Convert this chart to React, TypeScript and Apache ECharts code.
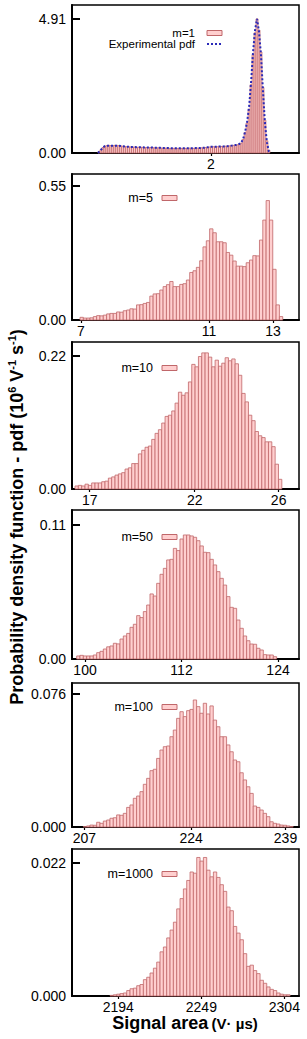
import React, { useEffect, useRef } from "react";
import * as echarts from "echarts";

// ---------- data ----------
const seriesNames = ["m=1", "m=5", "m=10", "m=50", "m=100", "m=1000"];

const m1Values = [
  0.05, 0.12, 0.2, 0.25,
  0.27, 0.28, 0.27, 0.27, 0.28, 0.28, 0.27, 0.26, 0.25,
  0.24, 0.23, 0.23, 0.22, 0.22, 0.22, 0.21, 0.21, 0.21, 0.21, 0.2, 0.2, 0.2, 0.2, 0.2, 0.19, 0.19, 0.19,
  0.19, 0.18, 0.18, 0.18, 0.18, 0.17, 0.17, 0.17, 0.17, 0.17, 0.17, 0.17, 0.17, 0.17, 0.17, 0.18, 0.17, 0.17, 0.18, 0.18, 0.18, 0.19, 0.19, 0.2, 0.21,
  0.22, 0.23, 0.23, 0.23, 0.23, 0.24, 0.24, 0.24, 0.25, 0.25, 0.26,
  0.27, 0.28, 0.29, 0.3, 0.32, 0.36,
  0.5, 0.75, 1.1, 1.6, 2.5, 3.6, 4.4, 4.91, 4.5, 3.7, 2.4, 1.2, 0.45, 0.1,
];
const expPdfValues = [
  0.04, 0.12, 0.2, 0.26,
  0.27, 0.27, 0.27, 0.27, 0.27, 0.27, 0.27, 0.26, 0.25,
  0.24, 0.23, 0.23, 0.22, 0.22, 0.22, 0.21, 0.21, 0.21, 0.21, 0.2, 0.2, 0.2, 0.2, 0.2, 0.19, 0.19, 0.19,
  0.19, 0.18, 0.18, 0.18, 0.18, 0.17, 0.17, 0.17, 0.17, 0.17, 0.17, 0.17, 0.17, 0.17, 0.17, 0.17, 0.17, 0.17, 0.18, 0.18, 0.18, 0.19, 0.19, 0.2, 0.21,
  0.22, 0.23, 0.23, 0.23, 0.23, 0.24, 0.24, 0.24, 0.25, 0.25, 0.26,
  0.27, 0.28, 0.29, 0.3, 0.33, 0.38,
  0.52, 0.78, 1.15, 1.7, 2.6, 3.7, 4.5, 4.91, 4.45, 3.6, 2.3, 1.1, 0.4, 0.05,
];
const m5Values = [
  0.011, 0.008, 0.008, 0.009, 0.014, 0.018, 0.017, 0.02, 0.025, 0.027,
  0.027, 0.033, 0.032, 0.038, 0.041, 0.046, 0.045, 0.062, 0.063, 0.068,
  0.072, 0.098, 0.107, 0.108, 0.123, 0.137, 0.145, 0.158, 0.137, 0.137,
  0.146, 0.149, 0.164, 0.195, 0.202, 0.216, 0.243, 0.3, 0.325, 0.374,
  0.358, 0.321, 0.321, 0.317, 0.277, 0.266, 0.242, 0.221, 0.221, 0.219,
  0.235, 0.246, 0.264, 0.263, 0.328, 0.41, 0.49, 0.41, 0.208, 0.062, 0.014,
];
const m10Values = [
  0.005, 0.006, 0.005, 0.008, 0.006, 0.01, 0.01, 0.01, 0.012, 0.013,
  0.018, 0.02, 0.023, 0.025, 0.027, 0.033, 0.035, 0.042, 0.042, 0.058,
  0.064, 0.069, 0.071, 0.082, 0.092, 0.098, 0.109, 0.12, 0.122, 0.129,
  0.142, 0.16, 0.155, 0.159, 0.177, 0.206, 0.202, 0.219, 0.225, 0.225,
  0.218, 0.202, 0.213, 0.203, 0.208, 0.217, 0.212, 0.215, 0.207, 0.188,
  0.158, 0.144, 0.122, 0.113, 0.095, 0.088, 0.085, 0.078, 0.078, 0.07, 0.041, 0.016,
];
const m50Values = [
  0.0025, 0.003, 0.0025, 0.0025, 0.0025, 0.0033, 0.0052, 0.0063, 0.0082, 0.01,
  0.0107, 0.0129, 0.0124, 0.0164, 0.0189, 0.021, 0.026, 0.0285, 0.0356, 0.034,
  0.0389, 0.0443, 0.0534, 0.0517, 0.0621, 0.0695, 0.0744, 0.0813, 0.0818, 0.0908,
  0.089, 0.0985, 0.1018, 0.1018, 0.101, 0.0999, 0.0971, 0.0928, 0.0876, 0.0873,
  0.0818, 0.0772, 0.0717, 0.0662, 0.0607, 0.0512, 0.0424, 0.0416, 0.032, 0.0252,
  0.0189, 0.015, 0.0123, 0.0121, 0.0088, 0.0074, 0.0036, 0.0033, 0.0033, 0.0019,
];
const m100Values = [
  0.0002, 0.0006, 0.0011, 0.001, 0.0027, 0.0021, 0.0034, 0.004, 0.005, 0.0053,
  0.0069, 0.0067, 0.0078, 0.0112, 0.0126, 0.0164, 0.0177, 0.0202, 0.0244, 0.0278,
  0.0322, 0.033, 0.0392, 0.044, 0.0459, 0.0463, 0.0516, 0.0554, 0.0621, 0.0659,
  0.0631, 0.0665, 0.0672, 0.0726, 0.0688, 0.065, 0.0707, 0.0646, 0.0692, 0.0611,
  0.0573, 0.0516, 0.0516, 0.0469, 0.043, 0.0383, 0.0373, 0.031, 0.0269, 0.023,
  0.0192, 0.012, 0.0112, 0.0097, 0.0078, 0.0059, 0.003, 0.0021, 0.0017, 0.0011,
  0.001, 0.0006, 0.0002,
];
const m1000Values = [
  0.0001, 0.0002, 0.0003, 0.0004, 0.0005, 0.0009, 0.0012, 0.0013, 0.0017, 0.0019,
  0.0027, 0.0031, 0.0038, 0.0046, 0.0056, 0.0073, 0.0081, 0.0096, 0.0109, 0.0122,
  0.0144, 0.0161, 0.0177, 0.0191, 0.0205, 0.0203, 0.0229, 0.0223, 0.0229, 0.0208,
  0.0197, 0.0205, 0.0196, 0.0184, 0.0173, 0.0147, 0.0141, 0.0115, 0.0104, 0.0093,
  0.007, 0.0049, 0.0051, 0.0042, 0.0037, 0.0026, 0.0021, 0.0015, 0.0011, 0.0009,
  0.0005, 0.0003, 0.0002, 0.0002,
];
const allValues = [m1Values, m5Values, m10Values, m50Values, m100Values, m1000Values];

// histogram bin edges: first edge and bin width
const binStarts = [0.57, 6.97, 16.3, 98.96, 206.84, 2188.5];
const binWidths = [0.025, 0.1038, 0.1589, 0.4145, 0.53, 2.209];

// axis ranges and tick labels
const xMins = [0.2405, 6.719, 16.157, 98.38, 205.04, 2163.3];
const xMaxs = [3.114, 13.81, 26.97, 126.61, 241.15, 2313.7];
const xTickValues = [[2], [7, 11, 13], [17, 22, 26], [100, 112, 124], [207, 224, 239], [2194, 2249, 2304]];
const yMaxs = [5.42, 0.599, 0.243, 0.1223, 0.0823, 0.0243];
const yTopTicks = [4.91, 0.55, 0.22, 0.11, 0.076, 0.022];
const yTopLabels = ["4.91", "0.55", "0.22", "0.11", "0.076", "0.022"];
const yZeroLabels = ["0.00", "0.00", "0.00", "0.00", "0.000", "0.000"];

// ---------- layout ----------
const W = 307;
const H = 1039;
const gridLeft = 72;
const gridWidth = 227;
const gridTops = [5, 174, 342, 510, 683, 849];
const gridHeights = [148, 146, 147, 149, 144, 147];
const legendDy = [28, 24, 26, 27, 24, 25];

const FONT = "'Liberation Sans', Arial, Helvetica, sans-serif";
const BAR_FILL = "#ffcfcf";
const BAR_STROKE = "#c0676a";
const PDF_COLOR = "#2a2ab8";

function buildOption() {
  const grid: any[] = [];
  const xAxis: any[] = [];
  const yAxis: any[] = [];
  const series: any[] = [];
  const graphic: any[] = [];

  for (let p = 0; p < 6; p++) {
    grid.push({
      left: gridLeft,
      top: gridTops[p],
      width: gridWidth,
      height: gridHeights[p],
      show: true,
      borderColor: "#000",
      borderWidth: 1.5,
      backgroundColor: "transparent",
    });
    xAxis.push({
      type: "value",
      gridIndex: p,
      min: xMins[p],
      max: xMaxs[p],
      splitLine: { show: false },
      axisLine: { show: true, onZero: false, lineStyle: { color: "#000", width: 2 } },
      axisTick: {
        show: true,
        inside: false,
        length: 3,
        lineStyle: { color: "#000", width: 1.2 },
        customValues: xTickValues[p],
      },
      axisLabel: {
        show: true,
        color: "#000",
        fontSize: 14,
        fontFamily: FONT,
        margin: 4,
        customValues: xTickValues[p],
        formatter: (v: number) => String(Math.round(v)),
      },
    });
    const top = yTopTicks[p];
    const topLabel = yTopLabels[p];
    const zeroLabel = yZeroLabels[p];
    yAxis.push({
      type: "value",
      gridIndex: p,
      min: 0,
      max: yMaxs[p],
      splitLine: { show: false },
      axisLine: { show: true, onZero: false, lineStyle: { color: "#000", width: 2 } },
      axisTick: {
        show: true,
        inside: true,
        length: 8,
        lineStyle: { color: "#000", width: 2 },
        customValues: [top],
      },
      axisLabel: {
        show: true,
        color: "#000",
        fontSize: 14,
        fontFamily: FONT,
        margin: 6,
        customValues: [0, top],
        formatter: (v: number) => (v === 0 ? zeroLabel : topLabel),
      },
    });

    const vals = allValues[p];
    const start = binStarts[p];
    const w = binWidths[p];
    const data = vals.map((v, i) => [start + i * w, start + (i + 1) * w, v]);
    series.push({
      name: seriesNames[p],
      type: "custom",
      xAxisIndex: p,
      yAxisIndex: p,
      encode: { x: [0, 1], y: 2 },
      data,
      renderItem: (_params: any, api: any) => {
        const a = api.coord([api.value(0), api.value(2)]);
        const b = api.coord([api.value(1), 0]);
        return {
          type: "rect",
          shape: { x: a[0], y: a[1], width: b[0] - a[0], height: b[1] - a[1] },
          style: { fill: BAR_FILL, stroke: BAR_STROKE, lineWidth: 0.8 },
        };
      },
      z: 2,
    });

    // legend
    const ly = gridTops[p] + legendDy[p];
    const textRight = p === 0 ? 195 : 153;
    const swX = p === 0 ? 207 : 162;
    const fs = p === 0 ? 11.5 : 12.5;
    graphic.push({
      type: "text",
      x: textRight,
      y: ly,
      style: {
        text: seriesNames[p],
        font: `${fs}px ${FONT}`,
        lineHeight: p === 0 ? 10 : 14,
        fill: "#000",
        align: "right",
        verticalAlign: "middle",
        textAlign: "right",
        textVerticalAlign: "middle",
      },
    });
    graphic.push({
      type: "rect",
      shape: { x: swX, y: ly - 2.5, width: 15, height: 5 },
      style: { fill: BAR_FILL, stroke: BAR_STROKE, lineWidth: 1 },
    });
  }

  // experimental pdf line on panel 1
  const s0 = binStarts[0];
  const w0 = binWidths[0];
  const pdfData: number[][] = [[s0, 0]];
  expPdfValues.forEach((v, i) => pdfData.push([s0 + (i + 0.5) * w0, v]));
  pdfData.push([s0 + expPdfValues.length * w0, 0]);
  series.push({
    name: "Experimental pdf",
    type: "line",
    xAxisIndex: 0,
    yAxisIndex: 0,
    data: pdfData,
    symbol: "none",
    lineStyle: { color: PDF_COLOR, width: 2, type: [2, 2] },
    z: 5,
  });
  graphic.push({
    type: "text",
    x: 195,
    y: gridTops[0] + 39,
    style: {
      text: "Experimental pdf",
      font: `11.5px ${FONT}`,
      lineHeight: 10,
      fill: "#000",
      align: "right",
      verticalAlign: "middle",
      textAlign: "right",
      textVerticalAlign: "middle",
    },
  });
  graphic.push({
    type: "line",
    shape: { x1: 207, y1: gridTops[0] + 39, x2: 222, y2: gridTops[0] + 39 },
    style: { stroke: PDF_COLOR, lineWidth: 2, lineDash: [2, 2] },
  });

  // axis titles
  graphic.push({
    type: "text",
    x: 17,
    y: 517,
    rotation: Math.PI / 2,
    style: {
      text: "{b|Probability density function - pdf (10}{s|6}{b| V}{s|-1}{b| s}{s|-1}{b|)}",
      align: "center",
      verticalAlign: "middle",
      textAlign: "center",
      textVerticalAlign: "middle",
      fill: "#000",
      rich: {
        b: { fontSize: 18, fontWeight: "bold", fontFamily: FONT, fill: "#000", lineHeight: 22 },
        s: { fontSize: 11, fontWeight: "bold", fontFamily: FONT, fill: "#000", verticalAlign: "top", lineHeight: 22 },
      },
    },
  });
  graphic.push({
    type: "text",
    x: 185,
    y: 1023,
    style: {
      text: "{a|Signal area} {c|(V· µs)}",
      align: "center",
      verticalAlign: "middle",
      textAlign: "center",
      textVerticalAlign: "middle",
      fill: "#000",
      rich: {
        a: { fontSize: 18, fontWeight: "bold", fontFamily: FONT, fill: "#000" },
        c: { fontSize: 15, fontWeight: "bold", fontFamily: FONT, fill: "#000" },
      },
    },
  });

  return {
    animation: false,
    backgroundColor: "#fff",
    textStyle: { fontFamily: FONT },
    grid,
    xAxis,
    yAxis,
    series,
    graphic,
  };
}

export default function App() {
  const ref = useRef<HTMLDivElement>(null);
  useEffect(() => {
    if (!ref.current) return;
    const chart = echarts.init(ref.current, undefined, { renderer: "svg", width: W, height: H });
    chart.setOption(buildOption() as any);
    return () => chart.dispose();
  }, []);
  return (
    <div
      ref={ref}
      style={{ position: "fixed", left: 0, top: 0, width: W, height: H, background: "#fff" }}
    />
  );
}
